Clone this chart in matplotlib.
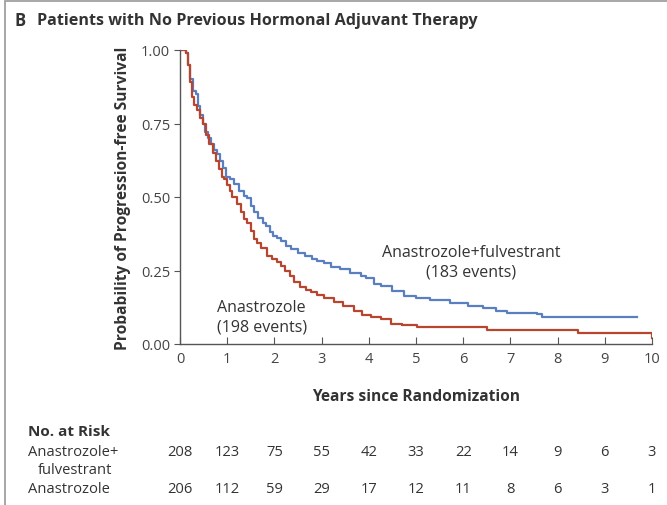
import matplotlib
matplotlib.use('Agg')
import matplotlib.pyplot as plt
import matplotlib.transforms as mtransforms
from matplotlib.patches import Rectangle

plt.rcParams['font.family'] = ['Open Sans', 'DejaVu Sans']

# Kaplan-Meier curves (years, survival probability)
combo_t = [0, 0.13, 0.18, 0.22, 0.27, 0.33, 0.38, 0.43, 0.48, 0.53, 0.6, 0.66, 0.72, 0.78,
           0.85, 0.91, 0.97, 1.05, 1.15, 1.25, 1.35, 1.43, 1.5, 1.57, 1.65, 1.75, 1.82, 1.9,
           1.96, 2.05, 2.15, 2.25, 2.35, 2.5, 2.65, 2.8, 2.91, 3.05, 3.2, 3.4, 3.6, 3.83,
           3.95, 4.1, 4.25, 4.5, 4.74, 5.0, 5.3, 5.73, 6.1, 6.43, 6.7, 6.93, 7.3, 7.56,
           7.67, 9.68]
combo_s = [1.0, 0.99, 0.95, 0.90, 0.862, 0.85, 0.81, 0.78, 0.75, 0.72, 0.70, 0.68, 0.66, 0.645,
           0.623, 0.60, 0.567, 0.56, 0.545, 0.52, 0.505, 0.495, 0.47, 0.448, 0.43, 0.41, 0.40, 0.38,
           0.368, 0.36, 0.35, 0.335, 0.323, 0.31, 0.30, 0.29, 0.283, 0.275, 0.262, 0.255, 0.24, 0.232,
           0.225, 0.205, 0.198, 0.18, 0.164, 0.155, 0.148, 0.139, 0.13, 0.122, 0.112, 0.107, 0.105, 0.102,
           0.091, 0.091]
ana_t = [0, 0.13, 0.18, 0.22, 0.26, 0.3, 0.36, 0.42, 0.48, 0.55, 0.62, 0.69, 0.76, 0.83,
         0.9, 0.94, 1.0, 1.05, 1.11, 1.2, 1.29, 1.36, 1.43, 1.5, 1.57, 1.64, 1.72, 1.85,
         1.95, 2.05, 2.14, 2.22, 2.32, 2.42, 2.55, 2.66, 2.77, 2.9, 3.05, 3.26, 3.45, 3.69,
         3.85, 4.04, 4.25, 4.46, 4.7, 5.02, 6.43, 6.5, 8.4, 8.44, 9.99]
ana_s = [1.0, 0.99, 0.95, 0.89, 0.84, 0.813, 0.795, 0.77, 0.75, 0.71, 0.68, 0.65, 0.623, 0.595,
         0.567, 0.561, 0.54, 0.52, 0.499, 0.475, 0.448, 0.425, 0.41, 0.385, 0.357, 0.345, 0.325, 0.30,
         0.29, 0.28, 0.266, 0.25, 0.23, 0.21, 0.195, 0.185, 0.176, 0.165, 0.155, 0.142, 0.128, 0.113,
         0.10, 0.091, 0.085, 0.068, 0.063, 0.059, 0.059, 0.048, 0.048, 0.039, 0.02]

years = list(range(11))
risk_combo = [208, 123, 75, 55, 42, 33, 22, 14, 9, 6, 3]
risk_ana = [206, 112, 59, 29, 17, 12, 11, 8, 6, 3, 1]

blue = '#5a7fc0'
red = '#b8462f'
txt = '#333333'

W, H = 667, 506
fig = plt.figure(figsize=(W / 100, H / 100), dpi=100)
fig.patches.append(Rectangle((5 / W, -0.01), 1.0, 1 - 1.5 / H + 0.01, transform=fig.transFigure,
                             fill=False, edgecolor='#a0a0a0', linewidth=1.3))
ax = fig.add_axes([180 / W, 1 - 345 / H, 472 / W, 294 / H])

ax.step(combo_t, combo_s, where='post', color=blue, lw=1.6)
ax.step(ana_t, ana_s, where='post', color=red, lw=1.6)

ax.set_xlim(0, 10)
ax.set_ylim(0, 1.0)
ax.set_xticks(years)
ax.set_yticks([0, 0.25, 0.5, 0.75, 1.0])
ax.set_yticklabels(['0.00', '0.25', '0.50', '0.75', '1.00'])
ax.spines['top'].set_visible(False)
ax.spines['right'].set_visible(False)
for s in ['left', 'bottom']:
    ax.spines[s].set_color('#555555')
    ax.spines[s].set_linewidth(1.0)
ax.tick_params(axis='y', direction='out', length=4, color='#555555', labelsize=10.5,
               labelcolor='#444444', pad=3)
ax.tick_params(axis='x', direction='in', length=5, color='#555555', labelsize=10.5,
               labelcolor='#444444', pad=5)

ax.set_ylabel('Probability of Progression-free Survival', fontweight='bold', fontsize=11.2,
              color=txt, labelpad=7)
ax.set_xlabel('Years since Randomization', fontweight='bold', fontsize=11.2, color=txt, labelpad=16)

ax.text(6.17, 0.28, 'Anastrozole+fulvestrant\n(183 events)', ha='center', va='center',
        fontsize=11.5, color=txt, linespacing=1.3)
ax.text(0.78, 0.092, 'Anastrozole\n(198 events)', ha='left', va='center',
        fontsize=11.5, color=txt, linespacing=1.3)

fig.text(14 / W, 1 - 21 / H, 'B', fontweight='bold', fontsize=12, color=txt, va='center')
fig.text(37 / W, 1 - 21 / H, 'Patients with No Previous Hormonal Adjuvant Therapy',
         fontweight='bold', fontsize=11.6, color=txt, va='center')

# number at risk table
trans = mtransforms.blended_transform_factory(ax.transData, fig.transFigure)
fig.text(28 / W, 1 - 432 / H, 'No. at Risk', fontweight='bold', fontsize=11, color=txt, va='center')
fig.text(28 / W, 1 - 453 / H, 'Anastrozole+', fontsize=10.6, color=txt, va='center')
fig.text(38 / W, 1 - 471 / H, 'fulvestrant', fontsize=10.6, color=txt, va='center')
fig.text(28 / W, 1 - 490 / H, 'Anastrozole', fontsize=10.6, color=txt, va='center')
for x, a, b in zip(years, risk_combo, risk_ana):
    ax.text(x, 1 - 453 / H, str(a), transform=trans, ha='center', va='center',
            fontsize=10.6, color=txt)
    ax.text(x, 1 - 490 / H, str(b), transform=trans, ha='center', va='center',
            fontsize=10.6, color=txt)

fig.savefig('out.png', dpi=100)
